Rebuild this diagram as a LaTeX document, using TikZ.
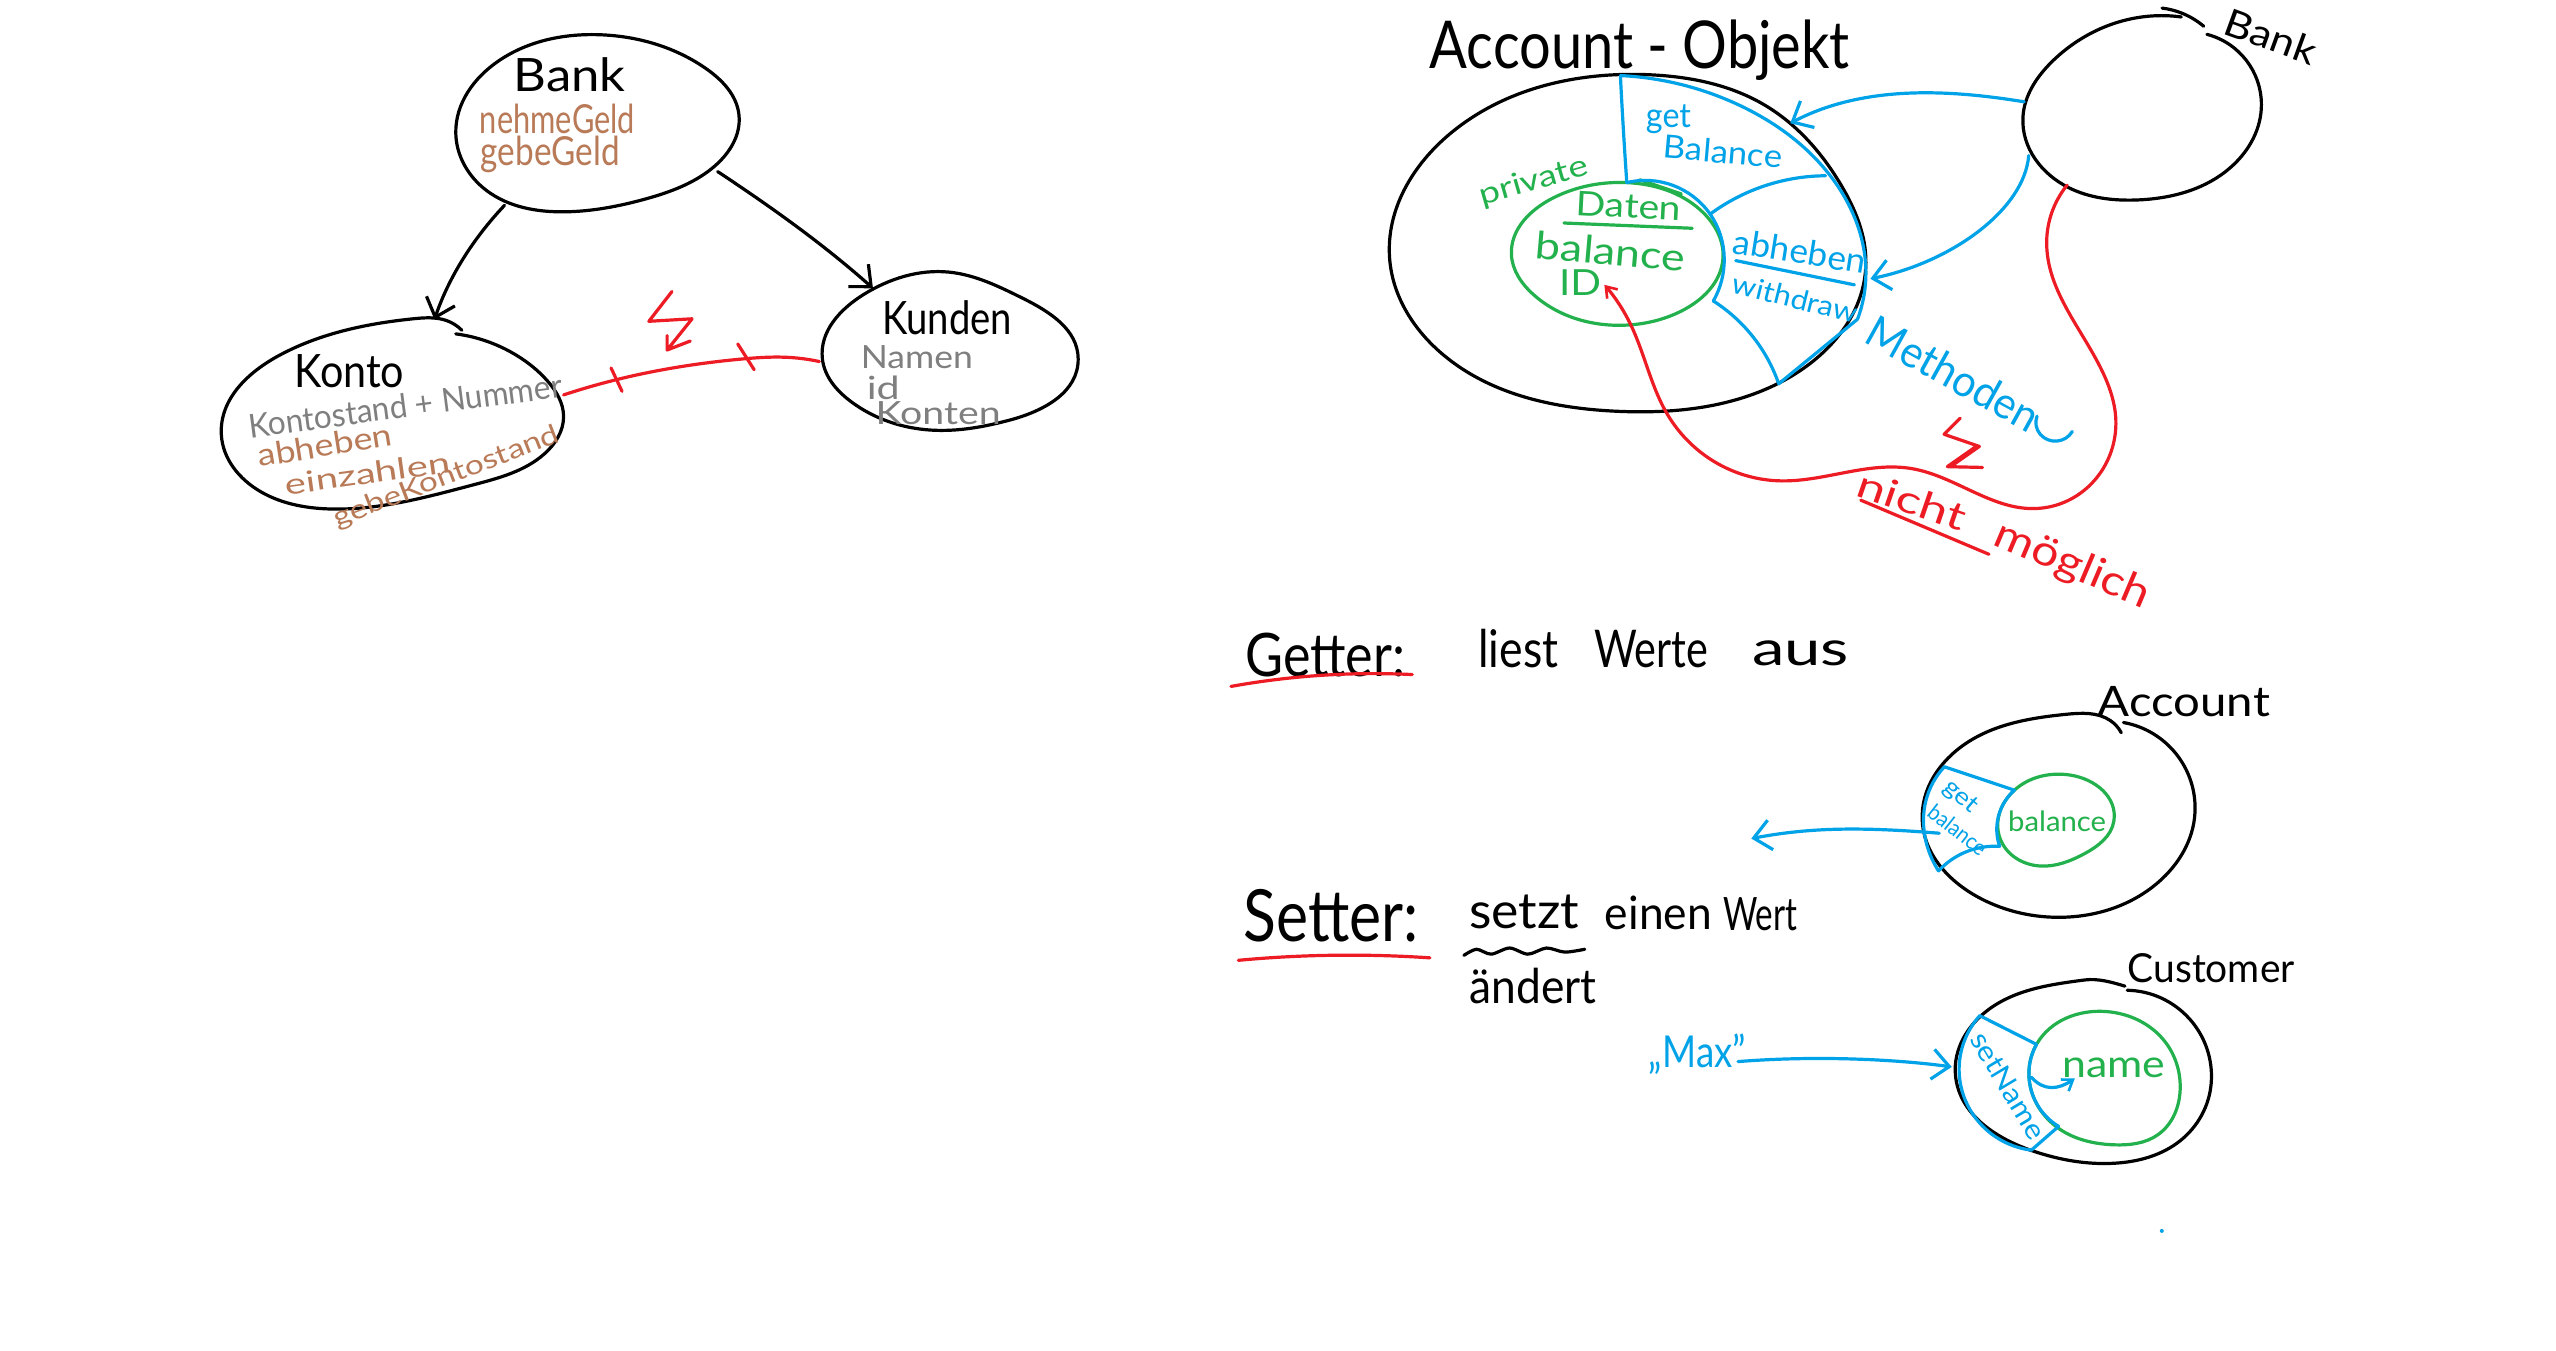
\documentclass[tikz,border=0pt]{standalone}
\usepackage{fontspec}
\setmainfont{Lato}
\usetikzlibrary{arrows.meta,hobby}
\definecolor{hbrown}{HTML}{B97A57}
\definecolor{hgray}{HTML}{7F7F7F}
\definecolor{hred}{HTML}{ED1C24}
\definecolor{hblue}{HTML}{00A2E8}
\definecolor{hgreen}{HTML}{22B14C}
\newcommand\hw[3]{\resizebox{#1pt}{\height}{\fontsize{#2pt}{#2pt}\selectfont #3}}
\tikzset{
  lbl/.style={inner sep=0pt,outer sep=0pt},
  port/.style={inner sep=0pt,minimum size=0pt,outer sep=0pt},
  ink/.style={line width=3.2pt,line cap=round,line join=round,use Hobby shortcut},
  blackink/.style={ink,draw=black},
  blueink/.style={ink,draw=hblue},
  greenink/.style={ink,draw=hgreen},
  redink/.style={ink,draw=hred},
  barb/.style={-{Straight Barb[length=17pt,width=30pt,line width=3.2pt]}},
  smallbarb/.style={-{Straight Barb[length=10pt,width=14pt,line width=2.6pt]}},
  zone1/.style={x=0.609pt,y=-0.359pt,shift={(200pt,0pt)}},
  zone2/.style={x=0.641pt,y=-0.404pt,shift={(1380pt,0pt)}},
  zone3/.style={x=0.737pt,y=-0.410pt,shift={(1200pt,-620pt)}},
}
\begin{document}
\begin{tikzpicture}[x=1pt,y=1pt]
\useasboundingbox (0,0) rectangle (2556,-1350);
\fill[white] (0,0) rectangle (2556,-1350);
% ---------- left diagram ----------
\begin{scope}[zone1]
\draw[blackink] ([closed]660,97) .. (830,190) .. (885,320) .. (840,470) .. (730,555) .. (600,590) .. (470,530) .. (420,370) .. (490,170);
\draw[blackink] (430,920) .. (405,893) .. (350,888) .. (130,990) .. (35,1210) .. (100,1370) .. (220,1418) .. (450,1350) .. (565,1265) .. (597,1160) .. (570,1060) .. (520,990) .. (420,930);
\draw[blackink] ([closed]1230,758) .. (1350,830) .. (1442,1000) .. (1330,1170) .. (1200,1198) .. (1070,1120) .. (1022,1000) .. (1090,820);
\node[port] (bankSW) at (500,572) {};
\node[port] (bankSE) at (850,478) {};
\node[port] (kontoN) at (385,890) {};
\node[port] (kontoE) at (597,1100) {};
\node[port] (kundenNW) at (1105,803) {};
\node[port] (kundenW) at (1017,1007) {};
\draw[blackink,barb] (bankSW) .. controls (440,680) and (405,790) .. (kontoN);
\draw[blackink,barb] (bankSE) .. controls (950,590) and (1030,690) .. (kundenNW);
\draw[redink] (kontoE.center) .. (690,1055) .. (890,1000) .. (960,995) .. (kundenW.center);
\draw[redink] (675,1025)--(693,1090) (883,958)--(910,1030);
\draw[redink] (775,812)--(737,895)--(808,888)--(767,975) (767,935)--(767,975)--(805,950);
\node[lbl] (tBank) at (607,207) {\hw{112}{46}{Bank}};
\node[lbl,text=hbrown] (tNehme) at (587,332) {\hw{155}{40}{nehmeGeld}};
\node[lbl,text=hbrown] (tGebe) at (575,430) {\hw{139}{40}{gebeGeld}};
\node[lbl] (tKonto) at (245,1033) {\hw{110}{46}{Konto}};
\node[lbl,text=hgray,rotate=7.5] (tStand) at (337,1130) {\hw{316}{33}{Kontostand + Nummer}};
\node[lbl,text=hbrown,rotate=9] (tAb) at (205,1240) {\hw{136}{31}{abheben}};
\node[lbl,text=hbrown,rotate=8] (tEin) at (275,1318) {\hw{166}{29}{einzahlen}};
\node[lbl,text=hbrown,rotate=21] (tGK) at (405,1330) {\hw{240}{27}{gebeKontostand}};
\node[lbl] (tKunden) at (1227,885) {\hw{130}{46}{Kunden}};
\node[lbl,text=hgray] (tNamen) at (1177,995) {\hw{112}{32}{Namen}};
\node[lbl,text=hgray] (tId) at (1122,1080) {\hw{33}{32}{id}};
\node[lbl,text=hgray] (tKonten) at (1212,1150) {\hw{125}{32}{Konten}};
\end{scope}
% ---------- account object ----------
\begin{scope}[zone2]
\draw[blackink] ([closed]420,185) .. (600,260) .. (720,460) .. (758,650) .. (620,950) .. (370,1018) .. (100,880) .. (15,640) .. (110,330);
\draw[blackink] (1250,42) .. (1200,40) .. (1050,150) .. (1003,290) .. (1075,465) .. (1180,495) .. (1330,410) .. (1375,260) .. (1290,85);
\draw[blackink] (1220,20) .. (1250,32) .. (1285,65);
\draw[greenink] ([closed]385,452) .. (500,520) .. (535,640) .. (470,770) .. (380,805) .. (240,730) .. (205,630) .. (270,490);
\draw[greenink] (405,445) -- (470,480);
\draw[blueink] (375,187) .. (560,260) .. (700,430) .. (758,680) .. (745,790);
\draw[blueink] (745,790) -- (622,950);
\draw[blueink] (375,187) .. (380,330) .. (385,452);
\draw[blueink] (385,452) .. (515,530) .. (537,640) .. (520,745);
\draw[blueink] (515,530) .. (600,460) .. (695,435);
\draw[blueink] (520,745) .. (580,830) .. (622,950);
\draw[greenink] (287,552)--(487,565);
\draw[blueink] (555,645)--(740,705);
\draw[blueink] (1025,1030) .. (1030,1075) .. (1080,1068);
\node[port] (bankBw) at (1005,252) {};
\node[port] (bankBsw) at (1012,385) {};
\node[port] (bankBs) at (1072,458) {};
\node[port] (accGet) at (640,305) {};
\node[port] (accAb) at (765,690) {};
\node[port] (accId) at (350,705) {};
\draw[blueink,barb] (bankBw) .. controls (900,225) and (760,205) .. (accGet);
\draw[blueink,barb] (bankBsw) .. controls (1005,520) and (890,650) .. (accAb);
\draw[redink,smallbarb] (bankBs.center) .. (1040,600) .. (1130,930) .. (1148,1050) .. (1030,1258) .. (830,1160) .. (620,1190) .. (450,1030) .. (390,800) .. (accId.center);
\draw[redink] (905,1035)--(880,1075)--(935,1105)--(890,1155) (930,1105)--(885,1155)--(940,1157);
\draw[redink] (750,1238)--(950,1372);
\node[lbl] (tObj) at (405,125) {\hw{420}{66}{Account - Objekt}};
\node[lbl,text=hblue] (tGet) at (450,295) {\hw{45}{34}{get}};
\node[lbl,text=hblue,rotate=-5] (tBal) at (535,375) {\hw{119}{32}{Balance}};
\node[lbl,text=hgreen,rotate=16] (tPriv) at (240,450) {\hw{112}{30}{private}};
\node[lbl,text=hgreen,rotate=-3] (tDaten) at (388,510) {\hw{105}{34}{Daten}};
\node[lbl,text=hgreen,rotate=-5] (tBalance) at (360,622) {\hw{150}{38}{balance}};
\node[lbl,text=hgreen] (tID) at (312,700) {\hw{42}{36}{ID}};
\node[lbl,text=hblue,rotate=-9] (tAbh) at (655,622) {\hw{134}{34}{abheben}};
\node[lbl,text=hblue,rotate=-14] (tWith) at (648,738) {\hw{128}{28}{withdraw}};
\node[lbl,text=hblue,rotate=-29] (tMeth) at (895,925) {\hw{190}{44}{Methoden}};
\node[lbl,text=hred,rotate=-19] (tNicht) at (830,1238) {\hw{112}{38}{nicht}};
\node[lbl,text=hred,rotate=-23] (tMoeg) at (1080,1400) {\hw{165}{42}{möglich}};
\node[lbl,rotate=-20] (tBankB) at (1390,90) {\hw{95}{38}{Bank}};
\end{scope}
% ---------- getter and setter ----------
\begin{scope}[zone3]
\node[lbl] (tGetter) at (170,85) {\hw{160}{60}{Getter:}};
\node[lbl] (tLiest) at (432,70) {\hw{80}{52}{liest}};
\node[lbl] (tWerte) at (612,72) {\hw{114}{52}{Werte}};
\node[lbl] (tAus) at (815,82) {\hw{97}{48}{aus}};
\draw[redink] (42,162) .. (130,140) .. (288,133);
\draw[blackink] (1250,275) .. (1235,245) .. (1175,230) .. (1040,300) .. (980,490) .. (1060,680) .. (1170,725) .. (1300,640) .. (1350,470) .. (1253,250);
\draw[greenink] ([closed]1180,378) .. (1240,490) .. (1200,570) .. (1140,600) .. (1085,530) .. (1105,415);
\draw[blueink] (1010,358)--(1105,415);
\draw[blueink] (1105,415) .. (1082,490) .. (1085,552);
\draw[blueink] (1085,552) .. (1040,565) .. (1002,612);
\draw[blueink] (1010,358) .. (985,440) .. (985,540) .. (1002,612);
\node[port] (gbOut) at (1003,520) {};
\node[port] (gbEnd) at (748,533) {};
\draw[blueink,barb] (gbOut) .. controls (900,505) and (830,505) .. (gbEnd);
\node[lbl,text=hblue,rotate=-40] (tG3) at (1032,432) {\hw{38}{24}{get}};
\node[lbl,text=hblue,rotate=-38] (tB3) at (1028,512) {\hw{68}{22}{balance}};
\node[lbl,text=hgreen] (tBal3) at (1163,492) {\hw{98}{28}{balance}};
\node[lbl] (tAccount) at (1335,200) {\hw{172}{42}{Account}};
\node[lbl] (tSetter) at (178,722) {\hw{175}{72}{Setter:}};
\node[lbl] (tSetzt) at (440,712) {\hw{110}{50}{setzt}};
\node[lbl] (tEinen) at (622,715) {\hw{107}{46}{einen}};
\node[lbl] (tWert) at (760,718) {\hw{74}{46}{Wert}};
\node[lbl] (tAendert) at (452,892) {\hw{127}{48}{ändert}};
\draw[redink] (52,830) .. (170,818) .. (312,824);
\draw[blackink] plot[smooth,tension=0.5] coordinates {(358,818)(375,803)(395,815)(420,800)(445,815)(470,800)(495,810)(522,803)};
\draw[blackink] (1255,893) .. (1200,878) .. (1070,950) .. (1025,1110) .. (1130,1295) .. (1240,1325) .. (1330,1270) .. (1372,1130) .. (1258,903);
\draw[greenink] ([closed]1230,955) .. (1310,1030) .. (1330,1140) .. (1300,1255) .. (1240,1280) .. (1165,1240) .. (1125,1120) .. (1135,1035);
\draw[blueink] (1058,965)--(1135,1035);
\draw[blueink] (1135,1035) .. (1125,1120) .. (1165,1235);
\draw[blueink] (1165,1235)--(1128,1293);
\draw[blueink] (1058,965) .. (1030,1100) .. (1045,1195) .. (1128,1293);
\node[port] (setIn) at (1128,1115) {};
\node[port] (setTo) at (1187,1118) {};
\draw[blueink,smallbarb] (setIn) .. controls (1145,1150) and (1165,1145) .. (setTo);
\node[lbl] (tCustomer) at (1372,850) {\hw{167}{40}{Customer}};
\node[lbl,text=hblue,rotate=-59] (tSetName) at (1097,1135) {\hw{120}{28}{setName}};
\node[lbl,text=hgreen] (tName) at (1240,1092) {\hw{103}{38}{name}};
\node[lbl,text=hblue] (tMax) at (675,1060) {\hw{97}{44}{„Max"}};
\node[port] (maxOut) at (730,1077) {};
\node[port] (maxIn) at (1020,1090) {};
\draw[blueink,barb] (maxOut) .. controls (850,1060) and (960,1075) .. (maxIn);
\fill[hblue] (1305,1490) circle[radius=2pt];
\end{scope}
\end{tikzpicture}
\end{document}
